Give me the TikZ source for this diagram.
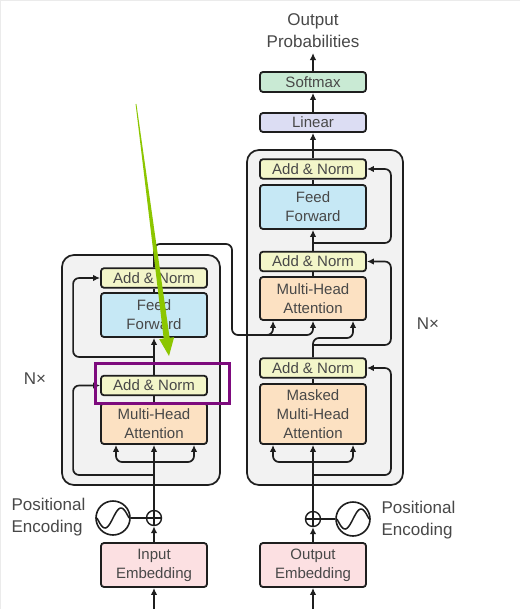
\documentclass[tikz,border=0pt]{standalone}
\usepackage{fontspec}
\setmainfont{Liberation Sans}
\usetikzlibrary{arrows.meta,calc}
\definecolor{anfill}{RGB}{243,246,201}
\definecolor{fffill}{RGB}{198,232,245}
\definecolor{mhafill}{RGB}{252,225,194}
\definecolor{embfill}{RGB}{252,224,226}
\definecolor{linfill}{RGB}{220,221,243}
\definecolor{smfill}{RGB}{201,234,212}
\definecolor{outerfill}{RGB}{242,242,242}
\definecolor{edge}{RGB}{30,30,30}
\definecolor{txt}{RGB}{72,72,72}
\definecolor{hlgreen}{RGB}{140,198,0}
\definecolor{hlpurple}{RGB}{125,10,125}
\definecolor{frame}{RGB}{235,235,235}
\begin{document}
\begin{tikzpicture}[x=1pt,y=-1pt,
  blk/.style={draw=edge, line width=1.8pt, rounded corners=3pt, inner sep=0pt,
    minimum width=106pt, text=txt, font=\fontsize{15}{19}\selectfont, align=center},
  anbox/.style={blk, fill=anfill, minimum height=19.5pt},
  ffbox/.style={blk, fill=fffill, minimum height=44pt},
  mhabox/.style={blk, fill=mhafill},
  embbox/.style={blk, fill=embfill, minimum height=44pt},
  outerbox/.style={draw=edge, line width=1.7pt, fill=outerfill, rounded corners=12pt},
  label/.style={text=txt, font=\fontsize{17}{22}\selectfont, inner sep=1pt},
  wire/.style={draw=edge, line width=1.7pt},
  arr/.style={wire, -{Latex[length=7pt,width=6.5pt]}},
  rwire/.style={arr, rounded corners=6pt},
  sinebox/.style={circle, draw=edge, line width=1.6pt, minimum size=34pt, inner sep=0pt},
  plusbox/.style={circle, draw=edge, line width=1.4pt, minimum size=15pt, inner sep=0pt}
]
\useasboundingbox (0,0) rectangle (520,609);
\fill[white] (0,0) rectangle (520,609);
\draw[frame, line width=2pt] (0,609) -- (0,0) -- (520,0);

% outer boxes
\draw[outerbox] (62,255) rectangle (220,485);
\draw[outerbox] (247,150) rectangle (403,485);

% ---------- encoder nodes
\node[anbox] (ean2) at (154,278) {Add \& Norm};
\node[ffbox] (eff) at (154,315) {Feed\\Forward};
\node[anbox] (ean1) at (154,385.5) {Add \& Norm};
\node[mhabox, minimum height=41pt] (emha) at (154,423.5) {Multi-Head\\Attention};
\node[embbox] (eemb) at (154,565) {Input\\Embedding};
\node[plusbox] (eplus) at (154,518) {};
\node[sinebox] (esin) at (113,518) {};
\node[label, align=left] (epos) at (48.5,517.5) {Positional\\Encoding};
\node[label] (enx) at (35,379) {N×};

% ---------- decoder nodes
\node[anbox] (dan3) at (313,169) {Add \& Norm};
\node[ffbox] (dff) at (313,207) {Feed\\Forward};
\node[anbox] (dan2) at (313,261.5) {Add \& Norm};
\node[mhabox, minimum height=43pt] (dmha) at (313,298.5) {Multi-Head\\Attention};
\node[anbox] (dan1) at (313,368) {Add \& Norm};
\node[mhabox, minimum height=60pt] (dmmha) at (313,414) {Masked\\Multi-Head\\Attention};
\node[embbox] (demb) at (313,565) {Output\\Embedding};
\node[plusbox] (dplus) at (313,519) {};
\node[sinebox] (dsin) at (353,519) {};
\node[label, align=left] (dpos) at (418.5,520.5) {Positional\\Encoding};
\node[label] (dnx) at (428,324) {N×};
\node[blk, fill=linfill, minimum height=19pt] (lin) at (313,122.5) {Linear};
\node[blk, fill=smfill, minimum height=20pt] (soft) at (313,82) {Softmax};
\node[label, align=center, outer sep=4pt] (outp) at (313,31) {Output\\Probabilities};

% plus signs and sine waves
\draw[edge, line width=1.4pt] (eplus.north) -- (eplus.south) (eplus.west) -- (eplus.east);
\draw[edge, line width=1.4pt] (dplus.north) -- (dplus.south) (dplus.west) -- (dplus.east);
\draw[edge, line width=1.5pt, shift={(esin.center)}] plot[domain=-16:16, samples=40, smooth] (\x,{-10*sin(11.25*\x)});
\draw[edge, line width=1.5pt, shift={(dsin.center)}] plot[domain=-16:16, samples=40, smooth] (\x,{-10*sin(11.25*\x)});

% ---------- encoder connectors
\coordinate (ein) at (154,609);
\draw[arr] (ein) -- (eemb.south);
\draw[arr] (eemb.north) -- (eplus.south);
\draw[wire] (esin.east) -- (eplus.west);
\draw[arr] (eplus.north) -- (emha.south);
\coordinate (efork) at (154,462);
\draw[rwire] (efork) -| ($(emha.south)+(-38,0)$);
\draw[rwire] (efork) -| ($(emha.south)+(40,0)$);
\coordinate (eres1) at (154,475);
\draw[rwire] (eres1) -| ($(ean1.west)+(-27,0)$) -- (ean1.west);
\draw[wire] (emha.north) -- (ean1.south);
\draw[arr] (ean1.north) -- (eff.south);
\coordinate (eres2) at (154,357);
\draw[rwire] (eres2) -| ($(ean2.west)+(-27,0)$) -- (ean2.west);
\draw[wire] (eff.north) -- (ean2.south);
\draw[rwire] (ean2.north) |- (232,244) |- (313,335) -- (dmha.south);
\coordinate (kbr) at (245,335);
\draw[rwire] (kbr) -| ($(dmha.south)+(-40,0)$);

% ---------- decoder connectors
\coordinate (din) at (313,609);
\draw[arr] (din) -- (demb.south);
\draw[arr] (demb.north) -- (dplus.south);
\draw[wire] (dplus.east) -- (dsin.west);
\draw[arr] (dplus.north) -- (dmmha.south);
\coordinate (dfork) at (313,462);
\draw[rwire] (dfork) -| ($(dmmha.south)+(-40,0)$);
\draw[rwire] (dfork) -| ($(dmmha.south)+(40,0)$);
\coordinate (dres1) at (313,475);
\draw[rwire] (dres1) -| ($(dan1.east)+(24,0)$) -- (dan1.east);
\draw[wire] (dmmha.north) -- (dan1.south);
\draw[rwire] (dan1.north) |- (353,338) -- ($(dmha.south)+(40,0)$);
\coordinate (dres2) at (313,345);
\draw[rwire] (dres2) -| ($(dan2.east)+(24,0)$) -- (dan2.east);
\draw[wire] (dmha.north) -- (dan2.south);
\draw[arr] (dan2.north) -- (dff.south);
\coordinate (dres3) at (313,243);
\draw[rwire] (dres3) -| ($(dan3.east)+(24,0)$) -- (dan3.east);
\draw[wire] (dff.north) -- (dan3.south);
\draw[arr] (dan3.north) -- (lin.south);
\draw[arr] (lin.north) -- (soft.south);
\draw[arr] (soft.north) -- (outp.south);

% ---------- annotations
\fill[hlgreen] (135.6,104.05) -- (136.4,103.95) -- (169.63,337.76) -- (174.1,337.2)
  -- (169,356) -- (159.2,339.1) -- (163.69,338.54) -- cycle;
\draw[hlpurple, line width=3pt] (95,363) rectangle (229,403);
\end{tikzpicture}
\end{document}
